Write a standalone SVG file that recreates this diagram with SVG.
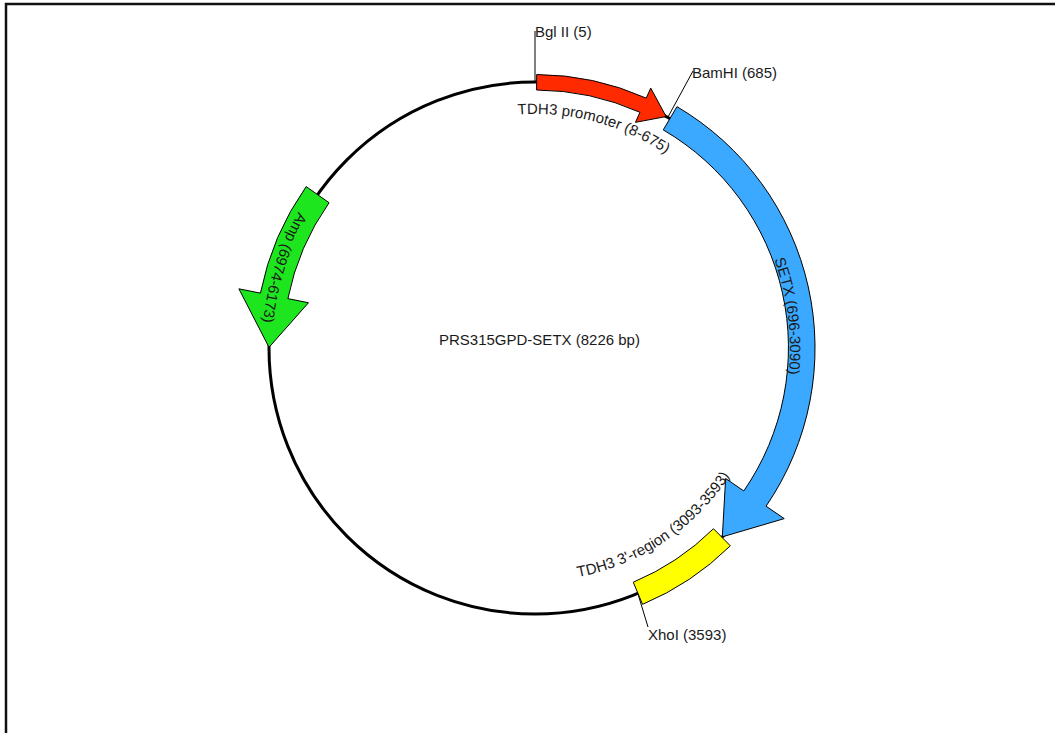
<svg xmlns="http://www.w3.org/2000/svg" width="1055" height="733" viewBox="0 0 1055 733">
<style>
text{font-family:"Liberation Sans",Arial,sans-serif;font-size:15px;fill:#1a1a1a}
.feat{stroke:#000;stroke-width:1;stroke-linejoin:miter}
.lead{stroke:#000;stroke-width:1;fill:none}
</style>
<defs>
<path id="pTDH3p" d="M 369.25,182.83 A 234 234 0 0 1 760.92,287.04"/>
<path id="pSETX" d="M 633.82,112.93 A 255 255 0 0 1 689.17,551.12"/>
<path id="pAmp" d="M 476.75,81.29 A 273 273 0 0 0 333.08,531.73"/>
<path id="pTDH3t" d="M 431.76,556.88 A 233 233 0 0 0 767.52,332.96"/>
</defs>
<rect x="6" y="4" width="1100" height="800" fill="#fff" stroke="#111" stroke-width="2.5"/>
<g id="backbone">
<circle cx="535" cy="348" r="266" fill="none" stroke="#000" stroke-width="3"/>
</g>
<g id="connectors">
<line class="lead" x1="535" y1="82" x2="535" y2="31"/>
<line class="lead" x1="668" y1="117" x2="693" y2="71"/>
<line class="lead" x1="638" y1="594" x2="648" y2="627"/>
</g>
<g id="tdh3-promoter">
<path class="feat" fill="#ff2a00" d="M 536.67,74.51 A 273.5 273.5 0 0 1 646.24,98.14 L 650.72,88.09 L 666.15,116.57 L 635.46,122.35 L 639.94,112.30 A 258 258 0 0 0 536.58,90.0 Z"/>
<text><textPath href="#pTDH3p" startOffset="50%" text-anchor="middle">TDH3 promoter (8-675)</textPath></text>
</g>
<g id="setx">
<path class="feat" fill="#3aa9ff" d="M 676.94,106.64 A 280 280 0 0 1 766.07,506.19 L 784.22,518.62 L 722.33,536.85 L 725.63,478.51 L 743.79,490.94 A 252 252 0 0 0 663.25,129.92 Z"/>
<text><textPath href="#pSETX" startOffset="50%" text-anchor="middle">SETX (696-3090)</textPath></text>
</g>
<g id="tdh3-3region">
<path class="feat" fill="#ffff00" d="M 713.47,528.73 L 730.33,545.81 A 278 278 0 0 1 642.56,604.35 L 633.27,582.22 A 254 254 0 0 0 713.47,528.73 Z"/>
<text><textPath href="#pTDH3t" startOffset="50%" text-anchor="middle">TDH3 3'-region (3093-3593)</textPath></text>
</g>
<g id="amp">
<path class="feat" fill="#1ee61e" d="M 306.20,186.59 A 280 280 0 0 0 260.43,293.13 L 238.86,288.82 L 269.0,347.3 L 308.48,302.74 L 287.89,298.62 A 252 252 0 0 1 329.08,202.73 Z"/>
<text><textPath href="#pAmp" startOffset="50%" text-anchor="middle">Amp (6974-6173)</textPath></text>
</g>
<g id="site-bglII"><text x="535" y="37">Bgl II (5)</text></g>
<g id="site-bamHI"><text x="692" y="78">BamHI (685)</text></g>
<g id="site-xhoI"><text x="648" y="640">XhoI (3593)</text></g>
<g id="title"><text x="439" y="345">PRS315GPD-SETX (8226 bp)</text></g>
</svg>
